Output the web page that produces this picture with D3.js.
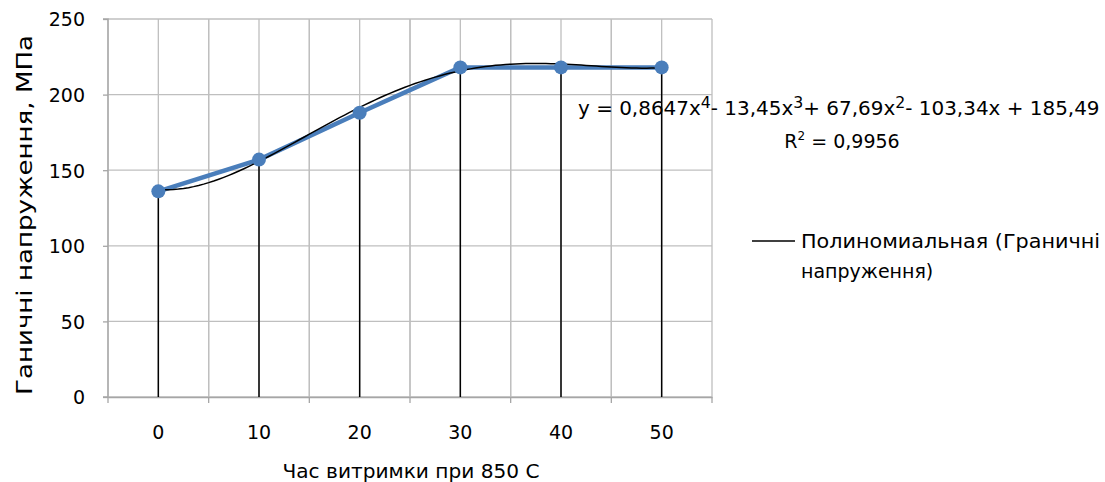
<!DOCTYPE html>
<html><head><meta charset="utf-8">
<script src="https://cdn.jsdelivr.net/npm/d3@7"></script>
<style>body{margin:0;background:#fff}svg{display:block}text{font-family:"DejaVu Sans",sans-serif;fill:#000}</style>
</head><body><svg id="c" width="1105" height="482"></svg>
<script>
const categories = ["0","10","20","30","40","50"];
const values = [136, 157, 188, 218, 218, 218];
const yTicks = [0, 50, 100, 150, 200, 250];
const trendCoeffs = [185.49, -103.34, 67.69, -13.45, 0.8647]; // c0..c4, x = 1..n
const eqParts = [["y = 0,8647x", "4"], ["- 13,45x", "3"], ["+ 67,69x", "2"], ["- 103,34x + 185,49", ""]];
const r2Parts = ["R", "2", " = 0,9956"];
const legendLines = ["Полиномиальная (Граничні", "напруження)"];
const yTitle = "Ганичні напруження, МПа";
const xTitle = "Час витримки  при 850 С";

const FONT = '"DejaVu Sans",sans-serif';
const svg = d3.select("#c");
const L = 108, R = 712, T = 19, B = 397;
const x = d3.scaleBand().domain(categories).range([L, R]).padding(0);
const y = d3.scaleLinear().domain([0, 250]).range([B, T]);
const cx = c => x(c) + x.bandwidth() / 2;

// grid
const g = svg.append("g");
yTicks.forEach(t => g.append("line").attr("x1", L).attr("x2", R).attr("y1", y(t)).attr("y2", y(t)).attr("stroke", "#bfbfbf").attr("stroke-width", 1.3));
categories.forEach(c => {
  [x(c), cx(c), x(c) + x.bandwidth()].forEach(px =>
    g.append("line").attr("x1", px).attr("x2", px).attr("y1", T).attr("y2", B).attr("stroke", "#bfbfbf").attr("stroke-width", 1.3));
});

// axes
const ya = svg.append("g").attr("transform", `translate(${L},0)`).call(d3.axisLeft(y).tickValues(yTicks).tickSize(5).tickPadding(18));
ya.select(".domain").attr("stroke", "#a6a6a6").attr("stroke-width", 1.3).attr("d", `M-5,${B}H0V${T}H-5`);
ya.selectAll(".tick line").attr("stroke", "#a6a6a6").attr("stroke-width", 1.3);
ya.selectAll("text").attr("font-size", 19).style("font-family", FONT).attr("fill", "#000").attr("dy", "0.36em");

const xa = svg.append("g").attr("transform", `translate(0,${B})`).call(d3.axisBottom(x).tickSize(0).tickPadding(29));
xa.select(".domain").attr("stroke", "#a6a6a6").attr("stroke-width", 1.3);
xa.selectAll("text").attr("font-size", 19).style("font-family", FONT).attr("fill", "#000");
categories.forEach(c => {
  const px = x(c) + x.bandwidth();
  svg.append("line").attr("x1", px).attr("x2", px).attr("y1", B).attr("y2", B + 6).attr("stroke", "#a6a6a6").attr("stroke-width", 1.3);
});
svg.append("line").attr("x1", L).attr("x2", L).attr("y1", B).attr("y2", B + 6).attr("stroke", "#a6a6a6").attr("stroke-width", 1.3);

// data line
const line = d3.line().x((d, i) => cx(categories[i])).y(d => y(d));
svg.append("path").datum(values).attr("d", line).attr("fill", "none").attr("stroke", "#4a7ebb").attr("stroke-width", 4.5).attr("stroke-linejoin", "round");

// trendline
const poly = t => trendCoeffs.reduce((s, c, k) => s + c * Math.pow(t, k), 0);
const pts = d3.range(1, categories.length + 0.001, 0.05).map(t => [L + (t - 0.5) * x.bandwidth(), y(poly(t))]);
svg.append("path").datum(pts).attr("d", d3.line()).attr("fill", "none").attr("stroke", "#000").attr("stroke-width", 1.5);

// drop lines
values.forEach((v, i) => {
  svg.append("line").attr("x1", cx(categories[i])).attr("x2", cx(categories[i])).attr("y1", y(v)).attr("y2", B).attr("stroke", "#000").attr("stroke-width", 1.5);
});

// markers
svg.selectAll("circle.m").data(values).enter().append("circle").attr("class", "m")
  .attr("cx", (d, i) => cx(categories[i])).attr("cy", d => y(d)).attr("r", 7).attr("fill", "#4a7ebb");

// equation
const eq = svg.append("text").attr("x", 578).attr("y", 115).attr("font-size", 19);
let raised = false;
eqParts.forEach(([base, sup]) => {
  eq.append("tspan").attr("dy", raised ? 7 : 0).text(base);
  raised = false;
  if (sup) {
    eq.append("tspan").attr("font-size", 15).attr("dy", -7).text(sup);
    raised = true;
  }
});
const eqW = eq.node().getComputedTextLength();
const eqS = (1100 - 578) / eqW;
eq.attr("transform", `translate(578,0) scale(${eqS},1) translate(-578,0)`);

const r2 = svg.append("text").attr("x", 842).attr("y", 148).attr("text-anchor", "middle").attr("font-size", 19);
r2.append("tspan").text(r2Parts[0]);
r2.append("tspan").attr("font-size", 12).attr("dy", -8).text(r2Parts[1]);
r2.append("tspan").attr("dy", 8).text(r2Parts[2]);

// legend
svg.append("line").attr("x1", 752).attr("x2", 795).attr("y1", 241).attr("y2", 241).attr("stroke", "#000").attr("stroke-width", 1.5);
legendLines.forEach((t, i) => {
  const tx = svg.append("text").attr("x", 801).attr("y", 248 + i * 30).attr("font-size", 19).text(t);
  if (i === 0) tx.attr("textLength", 299).attr("lengthAdjust", "spacingAndGlyphs");
});

// titles
svg.append("text").attr("transform", `translate(32,215) rotate(-90)`).attr("text-anchor", "middle").attr("font-size", 22)
  .attr("textLength", 360).attr("lengthAdjust", "spacingAndGlyphs").text(yTitle);
svg.append("text").attr("x", 411).attr("y", 478).attr("text-anchor", "middle").attr("font-size", 19)
  .attr("textLength", 257).attr("lengthAdjust", "spacingAndGlyphs").text(xTitle);
</script></body></html>
